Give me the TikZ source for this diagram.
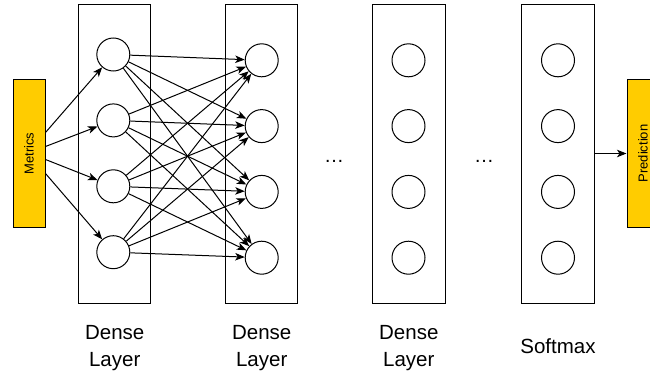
\documentclass[tikz,border=0pt]{standalone}
\usepackage{fontspec}
\setmainfont{Liberation Sans}
\usetikzlibrary{arrows.meta}
\definecolor{ioyellow}{HTML}{FFCC00}

\tikzset{%
  every neuron/.style={
    circle,
    draw,
    fill=white,
    minimum size=33pt,
    inner sep=0pt
  },
  every layer/.style={
    draw,
    minimum width=72.5pt,
    minimum height=299pt,
    inner sep=0pt
  },
  io block/.style={
    draw,
    fill=ioyellow,
    rotate=90,
    minimum width=148pt,
    minimum height=32pt,
    inner sep=0pt,
    font=\fontsize{13}{15}\selectfont
  },
  layer label/.style={
    align=center,
    inner sep=0pt,
    font=\fontsize{20.5}{27.5}\selectfont
  },
}

\begin{document}
\begin{tikzpicture}[x=1pt, y=-1pt, line width=1pt, >={Stealth[length=9.5pt,width=7.5pt,inset=2.5pt]}]

\useasboundingbox (0,0) rectangle (650,372);

\foreach \x [count=\l] in {114.7,261.7,408.8,558}
  \node [every layer] (layer-\l) at (\x,153.5) {};

\foreach \y in {1,...,4}
  \node [every neuron] (dense1-\y) at (113.3,-11.4+65.9*\y) {};

\foreach \n/\x in {dense2/261.7, dense3/408.5, softmax/558}
  \foreach \y in {1,...,4}
    \node [every neuron] (\n-\y) at (\x,-5.5+65.8*\y) {};

\node [io block] (metrics) at (29,153.5) {Metrics};
\node [io block] (prediction) at (643,153.5) {Prediction};

\foreach \d [count=\i] in {21,7,-6,-20}
  \draw [->] ([yshift=\d pt]metrics.south) -- (dense1-\i);

\foreach \i in {1,...,4}
  \foreach \j in {1,...,4}
    \draw [->] (dense1-\i) -- (dense2-\j);

\draw [->] (layer-4) -- (prediction);

\foreach \x [count=\i] in {334,484}
  \node [anchor=base, font=\fontsize{20}{24}\selectfont] (dots-\i) at (\x,162.5) {…};

\foreach \i in {1,2,3}
  \node [layer label] (label-\i) at ([yshift=-44.4pt]layer-\i.south) {Dense\\Layer};
\node [layer label, anchor=base] (label-4) at ([yshift=-49.5pt]layer-4.south) {Softmax};

\end{tikzpicture}
\end{document}
